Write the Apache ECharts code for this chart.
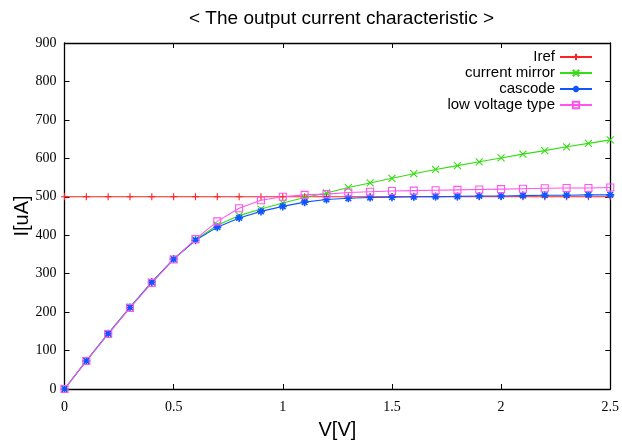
<!DOCTYPE html>
<html><head><meta charset="utf-8">
<script src="https://cdn.jsdelivr.net/npm/echarts@6/dist/echarts.min.js"></script>
<style>html,body{margin:0;padding:0;background:#fff}#c{width:622px;height:445px}</style>
</head><body><div id="c"></div>
<script>
const voltages = [0,0.1,0.2,0.3,0.4,0.5,0.6,0.7,0.8,0.9,1.0,1.1,1.2,1.3,1.4,1.5,1.6,1.7,1.8,1.9,2.0,2.1,2.2,2.3,2.4,2.5];
const iref = [500,500,500,500,500,500,500,500,500,500,500,500,500,500,500,500,500,500,500,500,500,500,500,500,500,500];
const currentMirror = [0,73,144,213,278,338,388,426,451,468,484,498,510,524,536,548,560,571,581,591,601,611,620,630,639,648];
const cascode = [0,73,144,212,278,338,387,421,445,462,475,486,493,496,498,499,500,500.5,501,502,502,503,504,504,505,505];
const lowVoltage = [0,73,143,211,276,337,390,436,470,491,500,505,507,511,513,515,516,517,518,519,520,521,522,523,523,524];
const seriesNames = ['Iref','current mirror','cascode','low voltage type'];
const colors = ['#ff2020','#33dd11','#1155ff','#ff55ee'];
const symbols = [
  'path://M5,0L5,10M0,5L10,5',
  'path://M0,0L10,10M0,10L10,0',
  'path://M5,0L5,10M0,5L10,5M1.5,1.5L8.5,8.5M1.5,8.5L8.5,1.5',
  'path://M0,0L10,0L10,10L0,10Z'
];
const sizes = [7,7,8,7];
const yTicks = {min:0,max:900,interval:100};
const xTicks = {min:0,max:2.5,interval:0.5};

const allData = [iref, currentMirror, cascode, lowVoltage];
const chart = echarts.init(document.getElementById('c'), null, {renderer:'canvas'});
const serif = 'Liberation Serif';
const sans = 'Liberation Sans';
const tickStyle = {show:true, inside:true, length:5, lineStyle:{color:'#000', width:1}};
const lineAx = {show:true, onZero:false, lineStyle:{color:'#000', width:1.3}};
chart.setOption({
  animation:false,
  backgroundColor:'#fff',
  title:{text:'< The output current characteristic >', left:184, top:4,
    textStyle:{fontFamily:sans, fontSize:19, fontWeight:'normal', color:'#000'}},
  legend:{
    orient:'vertical', right:24, top:44, align:'right', itemGap:0, itemWidth:32, itemHeight:8,
    textStyle:{fontFamily:sans, fontSize:15, color:'#000', lineHeight:16},
    data: seriesNames
  },
  grid:{left:64.5, right:10, top:43, bottom:52},
  xAxis:[
    {type:'value', min:xTicks.min, max:xTicks.max, interval:xTicks.interval, position:'bottom',
     name:'V[V]', nameLocation:'middle', nameGap:31, nameMoveOverlap:false,
     nameTextStyle:{fontFamily:sans, fontSize:20, color:'#000'},
     axisLine:lineAx, axisTick:tickStyle, splitLine:{show:false},
     axisLabel:{fontFamily:serif, fontSize:14, color:'#000', margin:11}},
    {type:'value', min:xTicks.min, max:xTicks.max, interval:xTicks.interval, position:'top',
     axisLine:lineAx, axisTick:tickStyle, splitLine:{show:false}, axisLabel:{show:false}}
  ],
  yAxis:[
    {type:'value', min:yTicks.min, max:yTicks.max, interval:yTicks.interval, position:'left',
     name:'I[uA]', nameLocation:'middle', nameGap:32, nameMoveOverlap:false,
     nameTextStyle:{fontFamily:sans, fontSize:20, color:'#000'},
     axisLine:lineAx, axisTick:tickStyle, splitLine:{show:false},
     axisLabel:{fontFamily:serif, fontSize:14, color:'#000', margin:8}},
    {type:'value', min:yTicks.min, max:yTicks.max, interval:yTicks.interval, position:'right',
     axisLine:lineAx, axisTick:tickStyle, splitLine:{show:false}, axisLabel:{show:false}}
  ],
  series: seriesNames.map((n,i)=>({
    name:n, type:'line', xAxisIndex:0, yAxisIndex:0,
    data: voltages.map((v,k)=>[v, allData[i][k]]),
    symbol: symbols[i], symbolSize: sizes[i], showSymbol:true,
    color: colors[i],
    lineStyle:{color:colors[i], width:1.1},
    itemStyle:{color: i===3 ? 'none' : colors[i], borderColor:colors[i], borderWidth: i===2 ? 1.6 : 1.1},
    emphasis:{disabled:true}
  }))
});
</script></body></html>
